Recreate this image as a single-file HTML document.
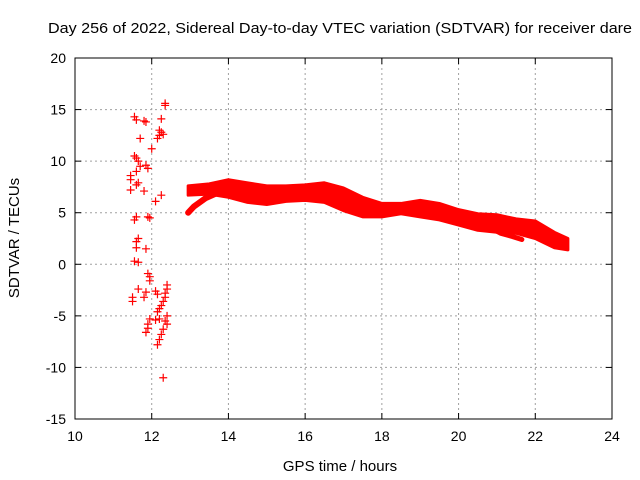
<!DOCTYPE html>
<html><head><meta charset="utf-8"><style>
body{margin:0;background:#fff}
svg{display:block;font-family:"Liberation Sans",sans-serif}
</style></head><body>
<svg id="chart" width="640" height="480" viewBox="0 0 640 480" xmlns="http://www.w3.org/2000/svg">
<text x="340" y="33" font-size="15" text-anchor="middle" textLength="584" lengthAdjust="spacingAndGlyphs">Day 256 of 2022, Sidereal Day-to-day VTEC variation (SDTVAR) for receiver dare</text>
<text x="340" y="471" font-size="15" text-anchor="middle">GPS time / hours</text>
<text transform="translate(19,238) rotate(-90)" font-size="15" text-anchor="middle">SDTVAR / TECUs</text>
<g id="grid"></g>
<g id="ticks"></g>
<g id="series"></g>
<rect x="75" y="58" width="537" height="361" fill="none" stroke="#000" stroke-width="1"/>
</svg>
<script>
const xTicks=[10,12,14,16,18,20,22,24];
const yTicks=[-15,-10,-5,0,5,10,15,20];
const scatterX=[11.55,11.6,11.85,11.8,12.35,12.35,12.25,11.7,12.2,12.25,12.3,12.15,12.2,12.0,11.55,11.6,11.65,11.7,11.6,11.9,11.85,11.45,11.45,11.65,11.6,11.45,11.8,12.1,12.25,11.6,11.55,11.9,11.95,11.6,11.65,11.6,11.85,11.55,11.65,11.9,11.95,11.95,11.65,11.85,11.8,11.5,11.5,12.1,12.15,12.4,12.4,12.35,12.35,12.3,12.25,12.2,12.15,11.95,11.9,11.9,11.85,12.1,12.4,12.35,12.4,12.3,12.25,12.2,12.15,12.2,12.3];
const scatterY=[14.3,14.0,13.8,13.9,15.6,15.4,14.1,12.2,13.0,12.8,12.6,12.2,12.5,11.2,10.5,10.3,10.0,9.5,9.0,9.3,9.6,8.6,8.2,7.9,7.7,7.2,7.1,6.1,6.7,4.6,4.3,4.6,4.5,2.2,2.5,1.6,1.5,0.3,0.2,-0.9,-1.2,-1.6,-2.4,-2.7,-3.2,-3.2,-3.6,-2.6,-2.9,-2.0,-2.4,-2.8,-3.2,-3.6,-4.0,-4.3,-4.6,-5.3,-5.8,-6.2,-6.6,-5.4,-5.0,-5.5,-5.8,-6.3,-6.8,-7.3,-7.8,-5.3,-11.0];
const bandX=[12.95,13.5,14,14.5,15,15.5,16,16.5,17,17.5,18,18.5,19,19.5,20,20.5,21,21.5,22,22.5,22.85];
const bandUpper=[7.6,7.8,8.2,7.9,7.6,7.6,7.7,7.9,7.4,6.5,5.9,5.9,6.2,5.9,5.3,4.9,4.8,4.4,4.2,3.1,2.5];
const bandLower=[6.7,6.8,6.5,6.0,5.8,6.1,6.2,6.0,5.2,4.6,4.6,4.9,4.6,4.3,3.8,3.3,3.1,3.0,2.5,1.6,1.4];
const branchX=[12.95,13.1,13.4,13.7,13.9];
const branchY=[5.0,5.6,6.4,6.9,7.1];
const tailX=[20.8,21.1,21.4,21.65];
const tailY=[3.6,3.0,2.7,2.4];

const NS="http://www.w3.org/2000/svg";
const X0=75,X1=612,Y0=419,Y1=58;
function sx(v){return X0+(v-10)/(24-10)*(X1-X0);}
function sy(v){return Y0-(v+15)/(20+15)*(Y0-Y1);}
function mk(tag,attrs,parent){const e=document.createElementNS(NS,tag);for(const k in attrs)e.setAttribute(k,attrs[k]);parent.appendChild(e);return e;}
const grid=document.getElementById('grid'),ticks=document.getElementById('ticks'),series=document.getElementById('series');
xTicks.forEach(t=>{
  const x=sx(t);
  if(t>10&&t<24){const l=mk('line',{x1:x,y1:Y1,x2:x,y2:Y0,stroke:'#a0a0a0','stroke-dasharray':'2,3'},grid);
  
  }
  mk('line',{x1:x,y1:Y0,x2:x,y2:Y0-6,stroke:'#000'},ticks);
  mk('line',{x1:x,y1:Y1,x2:x,y2:Y1+6,stroke:'#000'},ticks);
  const tx=mk('text',{x:x,y:Y0+22,'font-size':14,'text-anchor':'middle'},ticks);
  tx.textContent=t;
  
  
});
yTicks.forEach(t=>{
  const y=sy(t);
  if(t>-15&&t<20){const l=mk('line',{x1:X0,y1:y,x2:X1,y2:y,stroke:'#a0a0a0','stroke-dasharray':'2,3'},grid);
  
  }
  mk('line',{x1:X0,y1:y,x2:X0+6,y2:y,stroke:'#000'},ticks);
  mk('line',{x1:X1,y1:y,x2:X1-6,y2:y,stroke:'#000'},ticks);
  const tx=mk('text',{x:X0-9,y:y+5,'font-size':14,'text-anchor':'end'},ticks);
  tx.textContent=t;
  
  
});
let pts=bandX.map((x,i)=>sx(x)+','+sy(bandUpper[i]));
for(let i=bandX.length-1;i>=0;i--)pts.push(sx(bandX[i])+','+sy(bandLower[i]));
const band=mk('polygon',{points:pts.join(' '),fill:'#ff0000',stroke:'#ff0000','stroke-width':3,'stroke-linejoin':'round'},series);


const br=mk('polyline',{points:branchX.map((x,i)=>sx(x)+','+sy(branchY[i])).join(' '),fill:'none',stroke:'#ff0000','stroke-width':6,'stroke-linecap':'round'},series);


const tl=mk('polyline',{points:tailX.map((x,i)=>sx(x)+','+sy(tailY[i])).join(' '),fill:'none',stroke:'#ff0000','stroke-width':5,'stroke-linecap':'round'},series);


scatterX.forEach((v,i)=>{
  const x=sx(v),y=sy(scatterY[i]);
  const p=mk('path',{d:`M${x-4},${y}H${x+4}M${x},${y-4}V${y+4}`,stroke:'#ff0000','stroke-width':1.2,fill:'none'},series);
  
  
});
</script>
</body></html>
